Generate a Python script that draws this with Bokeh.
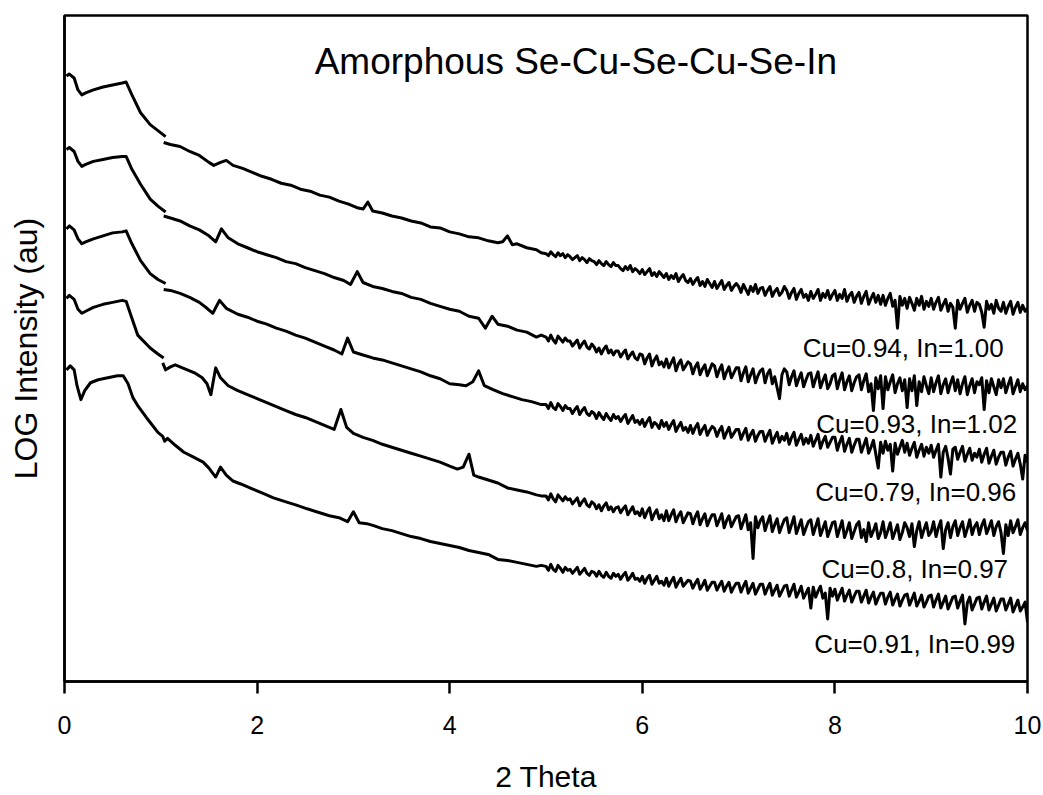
from bokeh.plotting import figure
from bokeh.models import Label, FixedTicker, Range1d
from bokeh.embed import file_html
from bokeh.resources import INLINE

# ---------------- data (log intensity, arbitrary units, offset traces) ----------------
X_TICKS = [0, 2, 4, 6, 8, 10]
SERIES_LABELS = ["Cu=0.94, In=1.00", "Cu=0.93, In=1.02", "Cu=0.79, In=0.96",
                 "Cu=0.8, In=0.97", "Cu=0.91, In=0.99"]

X_TAIL = [5.0, 5.025, 5.05, 5.075, 5.1, 5.125, 5.15, 5.175, 5.2, 5.225,
          5.25, 5.275, 5.3, 5.325, 5.35, 5.375, 5.4, 5.425, 5.45, 5.475,
          5.5, 5.525, 5.55, 5.575, 5.6, 5.625, 5.65, 5.675, 5.7, 5.725,
          5.75, 5.775, 5.8, 5.825, 5.85, 5.875, 5.9, 5.925, 5.95, 5.975,
          6.0, 6.025, 6.05, 6.075, 6.1, 6.125, 6.15, 6.175, 6.2, 6.225,
          6.25, 6.275, 6.3, 6.325, 6.35, 6.375, 6.4, 6.425, 6.45, 6.475,
          6.5, 6.525, 6.55, 6.575, 6.6, 6.625, 6.65, 6.675, 6.7, 6.725,
          6.75, 6.775, 6.8, 6.825, 6.85, 6.875, 6.9, 6.925, 6.95, 6.975,
          7.0, 7.025, 7.05, 7.075, 7.1, 7.125, 7.15, 7.175, 7.2, 7.225,
          7.25, 7.275, 7.3, 7.325, 7.35, 7.375, 7.4, 7.425, 7.45, 7.475,
          7.5, 7.525, 7.55, 7.575, 7.6, 7.625, 7.65, 7.675, 7.7, 7.725,
          7.75, 7.775, 7.8, 7.825, 7.85, 7.875, 7.9, 7.925, 7.95, 7.975,
          8.0, 8.025, 8.05, 8.075, 8.1, 8.125, 8.15, 8.175, 8.2, 8.225,
          8.25, 8.275, 8.3, 8.325, 8.35, 8.375, 8.4, 8.425, 8.45, 8.475,
          8.5, 8.525, 8.55, 8.575, 8.6, 8.625, 8.65, 8.675, 8.7, 8.725,
          8.75, 8.775, 8.8, 8.825, 8.85, 8.875, 8.9, 8.925, 8.95, 8.975,
          9.0, 9.025, 9.05, 9.075, 9.1, 9.125, 9.15, 9.175, 9.2, 9.225,
          9.25, 9.275, 9.3, 9.325, 9.35, 9.375, 9.4, 9.425, 9.45, 9.475,
          9.5, 9.525, 9.55, 9.575, 9.6, 9.625, 9.65, 9.675, 9.7, 9.725,
          9.75, 9.775, 9.8, 9.825, 9.85, 9.875, 9.9, 9.925, 9.95, 9.975,
          10.0]

# Curve 1: Cu=0.94, In=1.00
C1_HEAD_X = [0.02, 0.05, 0.1, 0.14, 0.18, 0.22, 0.3, 0.4, 0.5, 0.6, 0.64, 0.7, 0.79, 0.89, 0.97, 1.05]
C1_HEAD_Y = [610, 612, 608, 596, 591, 593, 596, 599, 601, 603, 604, 591, 573, 561, 555, 549]
C1_MID_X = [1.03, 1.1, 1.2, 1.3, 1.4, 1.5, 1.55, 1.62, 1.68, 1.75, 1.85, 1.95, 2.05, 2.15, 2.25,
            2.35, 2.45, 2.55, 2.65, 2.75, 2.85, 2.95, 3.05, 3.1, 3.15, 3.2, 3.3, 3.4, 3.5, 3.6,
            3.7, 3.8, 3.9, 4.0, 4.1, 4.2, 4.3, 4.4, 4.5, 4.55, 4.6, 4.65, 4.7, 4.8, 4.9, 4.95]
C1_MID_Y = [543, 541, 539, 534, 530, 523, 520, 523, 525, 520, 517, 513, 509, 506, 502,
            500, 496, 494, 490, 488, 484, 481, 477, 476, 483, 474, 472, 469, 467, 464,
            462, 458, 457, 453, 451, 448, 447, 444, 442, 443, 449, 440, 441, 437, 435, 432]
C1_TAIL_Y = [431, 429, 433, 430, 428, 432, 429, 431, 427, 430,
             428, 425, 427, 429, 424, 427, 425, 422, 426, 424,
             423, 420, 424, 421, 419, 423, 420, 418, 422, 419,
             419, 416, 414, 418, 415, 419, 413, 416, 414, 411,
             415, 410, 413, 416, 409, 412, 408, 413, 410, 407,
             411, 405, 409, 406, 411, 403, 407, 410, 404, 402,
             406, 400, 404, 407, 399, 403, 398, 405, 401, 397,
             403, 396, 400, 404, 395, 399, 402, 394, 398, 401,
             398, 392, 400, 395, 390, 398, 393, 400, 391, 396,
             397, 389, 394, 398, 388, 393, 396, 389, 392, 398,
             394, 386, 392, 396, 385, 391, 395, 387, 390, 384,
             393, 386, 390, 395, 384, 391, 387, 394, 385, 390,
             394, 384, 390, 386, 395, 383, 389, 392, 382, 388,
             392, 381, 388, 393, 380, 386, 391, 382, 389, 380,
             389, 379, 386, 391, 378, 384, 356, 388, 379, 386,
             376, 387, 381, 374, 386, 379, 388, 375, 383, 378,
             386, 375, 382, 387, 374, 380, 385, 373, 381, 377,
             356, 384, 375, 381, 386, 372, 379, 384, 373, 382,
             380, 372, 357, 383, 375, 380, 371, 384, 376, 373,
             382, 371, 378, 383, 370, 377, 382, 372, 379, 373,
             376]

# Curve 2: Cu=0.93, In=1.02
C2_HEAD_X = [0.02, 0.05, 0.1, 0.14, 0.18, 0.22, 0.3, 0.4, 0.5, 0.6, 0.64, 0.7, 0.79, 0.89, 0.97, 1.05]
C2_HEAD_Y = [536, 538, 534, 524, 519, 521, 524, 526, 528, 529, 529, 516, 501, 486, 479, 473]
C2_MID_X = [1.03, 1.1, 1.2, 1.3, 1.4, 1.5, 1.57, 1.63, 1.7, 1.8, 1.9, 2.0, 2.1, 2.2, 2.3,
            2.4, 2.5, 2.6, 2.7, 2.8, 2.9, 2.97, 3.04, 3.1, 3.2, 3.3, 3.4, 3.5, 3.6, 3.7,
            3.8, 3.9, 4.0, 4.1, 4.2, 4.3, 4.37, 4.44, 4.5, 4.6, 4.7, 4.8, 4.9, 4.95]
C2_MID_Y = [469, 467, 464, 459, 455, 449, 443, 456, 447, 441, 437, 433, 430, 427, 423,
            421, 417, 414, 411, 407, 404, 400, 413, 402, 398, 396, 393, 391, 387, 385,
            381, 378, 375, 373, 368, 366, 356, 368, 360, 358, 354, 352, 347, 349]
C2_TAIL_Y = [347, 343, 349, 344, 341, 348, 345, 342, 346, 343,
             343, 338, 341, 344, 336, 340, 343, 337, 335, 340,
             337, 332, 336, 330, 335, 338, 331, 334, 329, 333,
             333, 327, 331, 334, 325, 329, 332, 326, 324, 330,
             329, 320, 326, 330, 318, 324, 328, 319, 322, 317,
             325, 316, 321, 326, 313, 320, 324, 314, 318, 322,
             320, 310, 317, 321, 309, 315, 319, 308, 314, 320,
             318, 307, 314, 319, 305, 312, 317, 306, 311, 316,
             316, 303, 311, 317, 302, 309, 315, 301, 308, 313,
             315, 301, 310, 314, 300, 307, 296, 285, 309, 315,
             312, 299, 307, 313, 298, 305, 311, 297, 304, 310,
             311, 297, 305, 312, 296, 303, 309, 295, 300, 308,
             310, 295, 304, 311, 294, 302, 308, 293, 301, 307,
             309, 294, 303, 310, 292, 300, 273, 306, 295, 308,
             275, 307, 294, 302, 309, 291, 300, 306, 293, 304,
             276, 305, 293, 308, 278, 302, 292, 307, 298, 290,
             306, 292, 301, 308, 290, 299, 305, 291, 300, 307,
             293, 304, 290, 300, 307, 289, 298, 305, 291, 302,
             299, 306, 274, 303, 291, 305, 297, 289, 304, 296,
             305, 291, 299, 306, 290, 297, 304, 292, 300, 294,
             298]

# Curve 3: Cu=0.79, In=0.96
C3_HEAD_X = [0.02, 0.05, 0.1, 0.14, 0.18, 0.22, 0.3, 0.4, 0.5, 0.6, 0.64, 0.7, 0.79, 0.89, 0.97, 1.05]
C3_HEAD_Y = [456, 459, 455, 446, 441, 443, 446, 449, 452, 453, 454, 441, 424, 411, 405, 401]
C3_MID_X = [1.03, 1.1, 1.2, 1.3, 1.4, 1.48, 1.54, 1.61, 1.68, 1.8, 1.9, 2.0, 2.1, 2.2, 2.3,
            2.4, 2.5, 2.6, 2.7, 2.8, 2.88, 2.94, 3.0, 3.1, 3.2, 3.3, 3.4, 3.5, 3.6, 3.7,
            3.8, 3.9, 4.0, 4.1, 4.17, 4.24, 4.3, 4.36, 4.45, 4.55, 4.65, 4.75, 4.85, 4.95]
C3_MID_Y = [395, 394, 391, 387, 382, 376, 371, 384, 376, 370, 367, 363, 360, 356, 353,
            349, 346, 342, 338, 334, 330, 346, 332, 329, 326, 324, 321, 318, 315, 312,
            308, 305, 300, 299, 298, 302, 313, 298, 294, 290, 287, 284, 282, 279]
C3_TAIL_Y = [279, 275, 281, 276, 274, 280, 277, 273, 278, 275,
             275, 270, 274, 277, 269, 273, 276, 270, 268, 272,
             270, 265, 271, 267, 264, 270, 266, 263, 269, 265,
             267, 262, 266, 269, 260, 264, 268, 261, 263, 259,
             264, 257, 262, 266, 256, 261, 259, 255, 263, 257,
             261, 254, 259, 263, 252, 257, 261, 253, 256, 251,
             258, 250, 256, 260, 249, 254, 258, 248, 253, 257,
             255, 247, 253, 257, 245, 251, 256, 246, 250, 254,
             254, 244, 250, 255, 243, 249, 253, 242, 248, 252,
             252, 242, 248, 253, 240, 246, 251, 241, 247, 243,
             250, 239, 246, 251, 238, 244, 249, 239, 245, 240,
             248, 237, 243, 249, 235, 242, 247, 236, 241, 246,
             246, 233, 241, 247, 232, 239, 245, 231, 238, 244,
             244, 231, 238, 245, 230, 236, 243, 229, 215, 241,
             230, 242, 233, 239, 212, 240, 229, 236, 243, 231,
             240, 228, 235, 241, 226, 233, 239, 227, 236, 230,
             238, 226, 233, 239, 206, 231, 237, 225, 209, 234,
             236, 224, 231, 237, 222, 229, 235, 223, 230, 226,
             234, 221, 229, 235, 220, 227, 233, 219, 226, 231,
             231, 218, 226, 232, 217, 224, 230, 219, 204, 228,
             221]

# Curve 4: Cu=0.8, In=0.97
C4_HEAD_X = [0.02, 0.05, 0.1, 0.14, 0.18, 0.22, 0.3, 0.4, 0.5, 0.6, 0.64, 0.7, 0.76, 0.89, 0.97, 1.03]
C4_HEAD_Y = [386, 389, 385, 375, 371, 373, 377, 380, 382, 384, 383, 366, 349, 336, 330, 326]
C4_MID_X = [1.02, 1.05, 1.1, 1.15, 1.25, 1.35, 1.43, 1.48, 1.52, 1.57, 1.62, 1.7, 1.8, 1.9, 2.0,
            2.1, 2.2, 2.3, 2.4, 2.5, 2.6, 2.7, 2.8, 2.87, 2.93, 3.0, 3.1, 3.2, 3.3, 3.4,
            3.5, 3.6, 3.7, 3.8, 3.9, 4.0, 4.08, 4.14, 4.2, 4.25, 4.3, 4.4, 4.5, 4.6, 4.7,
            4.8, 4.9, 4.95]
C4_MID_Y = [321, 314, 317, 319, 315, 311, 306, 300, 289, 316, 306, 298, 293, 289, 285,
            281, 277, 273, 269, 266, 262, 258, 254, 274, 256, 250, 246, 243, 239, 236,
            233, 230, 227, 224, 221, 217, 214, 216, 229, 208, 206, 203, 200, 195, 193,
            191, 188, 187]
C4_TAIL_Y = [187, 183, 189, 184, 181, 188, 185, 182, 186, 183,
             184, 179, 182, 185, 177, 181, 184, 178, 176, 181,
             179, 174, 178, 172, 177, 180, 173, 176, 171, 175,
             176, 170, 174, 177, 168, 172, 176, 169, 171, 167,
             174, 165, 171, 175, 163, 169, 173, 164, 168, 162,
             172, 162, 168, 173, 161, 167, 171, 160, 165, 170,
             169, 159, 166, 171, 158, 164, 169, 157, 163, 168,
             168, 157, 163, 169, 155, 162, 167, 156, 161, 166,
             167, 154, 161, 168, 153, 160, 124, 166, 155, 162,
             166, 152, 160, 167, 151, 158, 164, 150, 157, 163,
             165, 150, 158, 166, 149, 156, 163, 148, 155, 161,
             163, 148, 156, 164, 147, 154, 161, 146, 153, 160,
             161, 146, 154, 162, 145, 152, 160, 144, 151, 158,
             161, 145, 153, 141, 160, 146, 152, 159, 144, 150,
             161, 145, 152, 160, 144, 151, 158, 143, 150, 160,
             155, 146, 159, 136, 152, 161, 145, 153, 160, 147,
             151, 161, 146, 155, 162, 134, 153, 160, 145, 156,
             162, 147, 155, 161, 146, 154, 163, 148, 156, 160,
             148, 157, 163, 149, 155, 162, 147, 156, 161, 150,
             129, 158, 147, 162, 150, 156, 163, 148, 155, 160,
             152]

# Curve 5: Cu=0.91, In=0.99
C5_X = [0.02, 0.06, 0.1, 0.13, 0.17, 0.21, 0.27, 0.35, 0.45, 0.55, 0.61, 0.66, 0.71, 0.76, 0.85,
        0.97, 1.02, 1.04, 1.07, 1.15, 1.24, 1.34, 1.44, 1.5, 1.57, 1.62, 1.68, 1.75, 1.83, 1.95,
        2.05, 2.17, 2.3, 2.4, 2.52, 2.65, 2.75, 2.85, 2.94, 3.0, 3.06, 3.14, 3.21, 3.3, 3.4,
        3.5, 3.6, 3.7, 3.8, 3.9, 4.0, 4.1, 4.2, 4.3, 4.4, 4.5, 4.6, 4.7, 4.8, 4.9, 4.95]
C5_Y = [314, 318, 314, 298, 284, 293, 301, 304, 306, 308, 308, 300, 286, 278, 266,
        251, 247, 242, 245, 238, 231, 226, 221, 215, 206, 216, 208, 202, 199, 194,
        190, 185, 181, 178, 174, 170, 167, 165, 161, 171, 160, 159, 157, 154, 152,
        149, 146, 144, 141, 139, 137, 135, 132, 130, 128, 123, 122, 120, 118, 116, 117]
C5_TAIL_Y = [116, 112, 118, 113, 111, 117, 114, 110, 115, 112,
             113, 109, 112, 115, 108, 111, 114, 109, 107, 111,
             110, 106, 111, 107, 105, 110, 106, 104, 109, 106,
             108, 103, 107, 110, 102, 105, 109, 103, 104, 101,
             106, 99, 104, 107, 98, 102, 106, 99, 101, 97,
             104, 96, 101, 105, 95, 100, 104, 96, 99, 102,
             101, 94, 99, 103, 93, 97, 102, 92, 96, 100,
             100, 92, 97, 101, 91, 96, 100, 90, 95, 99,
             99, 90, 96, 101, 89, 94, 99, 88, 93, 98,
             98, 88, 94, 99, 87, 92, 97, 86, 91, 96,
             97, 86, 92, 98, 85, 90, 96, 84, 89, 94,
             74, 95, 85, 91, 96, 84, 89, 63, 94, 86,
             93, 82, 88, 94, 81, 87, 92, 80, 86, 91,
             91, 80, 86, 92, 79, 85, 90, 78, 84, 89,
             89, 78, 85, 90, 77, 83, 88, 76, 82, 87,
             88, 77, 83, 89, 76, 81, 87, 75, 80, 86,
             87, 75, 82, 88, 74, 80, 86, 73, 79, 85,
             86, 74, 81, 87, 58, 79, 85, 72, 78, 84,
             85, 73, 80, 86, 72, 78, 84, 71, 77, 83,
             83, 72, 78, 84, 70, 76, 82, 71, 75, 80,
             60]

# ---------------- figure ----------------
FONT = "Liberation Sans"
LW = 3

p = figure(width=1043, height=795, output_backend="svg", toolbar_location=None,
           x_range=Range1d(0, 10), y_range=Range1d(0, 671),
           min_border_left=64, min_border_right=16, min_border_top=15, min_border_bottom=109)
p.background_fill_color = "white"
p.border_fill_color = "white"
p.xgrid.visible = False
p.ygrid.visible = False
p.outline_line_color = "black"
p.outline_line_width = 2.5

heads = [(C1_HEAD_X, C1_HEAD_Y), (C2_HEAD_X, C2_HEAD_Y), (C3_HEAD_X, C3_HEAD_Y), (C4_HEAD_X, C4_HEAD_Y)]
bodies = [(C1_MID_X + X_TAIL, C1_MID_Y + C1_TAIL_Y),
          (C2_MID_X + X_TAIL, C2_MID_Y + C2_TAIL_Y),
          (C3_MID_X + X_TAIL, C3_MID_Y + C3_TAIL_Y),
          (C4_MID_X + X_TAIL, C4_MID_Y + C4_TAIL_Y),
          (C5_X + X_TAIL, C5_Y + C5_TAIL_Y)]
for hx, hy in heads:
    p.line(hx, hy, line_color="black", line_width=LW, line_join="round")
for bx, by in bodies:
    p.line(bx, by, line_color="black", line_width=LW, line_join="round")

# x axis
xa = p.xaxis[0]
xa.ticker = FixedTicker(ticks=X_TICKS)
xa.axis_line_width = 2.5
xa.axis_line_color = "black"
xa.major_tick_line_width = 2.5
xa.major_tick_out = 12
xa.major_tick_in = 0
xa.minor_tick_out = 0
xa.minor_tick_in = 0
xa.major_label_text_font = FONT
xa.major_label_text_font_size = "25px"
xa.major_label_text_color = "black"
xa.major_label_standoff = 22
xa.axis_label = "2 Theta"
xa.axis_label_text_font = FONT
xa.axis_label_text_font_size = "30px"
xa.axis_label_text_font_style = "normal"
xa.axis_label_text_color = "black"
xa.axis_label_standoff = 23

# y axis: line and title only
ya = p.yaxis[0]
ya.ticker = FixedTicker(ticks=[])
ya.axis_line_width = 2.5
ya.axis_line_color = "black"
ya.major_tick_out = 0
ya.major_tick_in = 0
ya.minor_tick_out = 0
ya.minor_tick_in = 0
ya.major_label_text_font_size = "0px"
ya.axis_label = "LOG Intensity (au)"
ya.axis_label_text_font = FONT
ya.axis_label_text_font_size = "32px"
ya.axis_label_text_font_style = "normal"
ya.axis_label_text_color = "black"
ya.axis_label_standoff = 21

# title inside the plot
p.add_layout(Label(x=5.31, y=625, text="Amorphous Se-Cu-Se-Cu-Se-In",
                   text_font=FONT, text_font_size="37px", text_color="black",
                   text_align="center", text_baseline="middle"))

# series labels
label_pos = [(8.71, 336), (8.85, 259), (8.84, 191), (8.83, 113), (8.83, 38)]
for (lx, ly), txt in zip(label_pos, SERIES_LABELS):
    p.add_layout(Label(x=lx, y=ly, text=txt, text_font=FONT, text_font_size="26px",
                       text_color="black", text_align="center", text_baseline="middle"))

open("out.html", "w").write(file_html(p, INLINE))
